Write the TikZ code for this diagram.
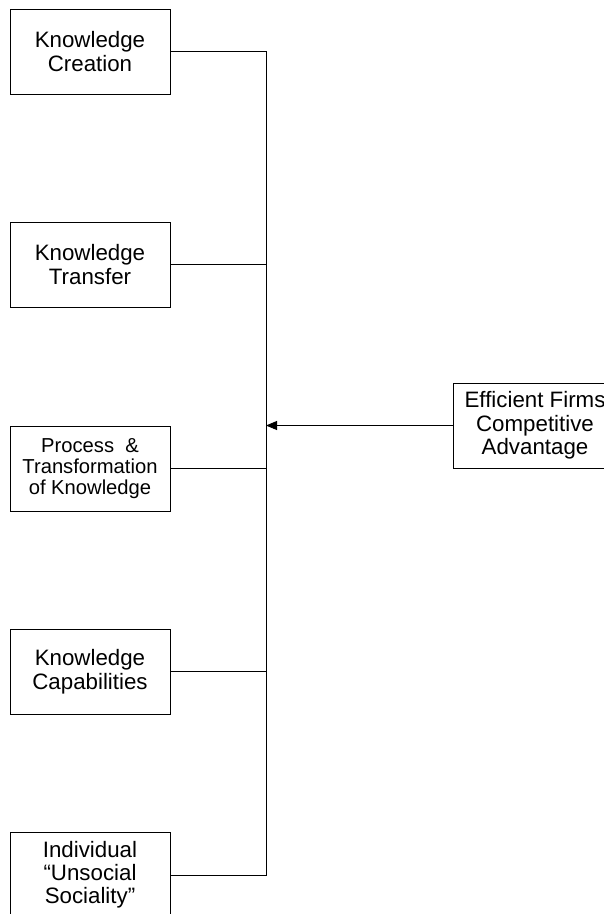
\documentclass[tikz,border=0pt]{standalone}
\usepackage{fontspec}
\setmainfont{Liberation Sans}
\usetikzlibrary{arrows.meta}
\begin{document}
\begin{tikzpicture}[x=1pt,y=-1pt,
  box/.style={draw=black,line width=0.9pt,minimum width=160pt,minimum height=85pt,inner sep=0pt,align=center,font=\fontsize{22.3}{24}\selectfont},
  conn/.style={draw=black,line width=0.9pt}]
\useasboundingbox (0,0) rectangle (604,914);
\node[box] (b1) at (90,51.5) {Knowledge\\Creation};
\node[box] (b2) at (90,264.5) {Knowledge\\Transfer};
\node[box,font=\fontsize{20.2}{21}\selectfont] (b3) at (90,468.5) {Process\ \ \&\\Transformation\\of Knowledge};
\node[box] (b4) at (90,671.5) {Knowledge\\Capabilities};
\node[box,font=\fontsize{22.3}{23}\selectfont] (b5) at (90,875) {Individual\\“Unsocial\\Sociality”};
\node[box,minimum width=164pt,font=\fontsize{22.3}{23.5}\selectfont] (eff) at (535,425.5) {Efficient Firms\\Competitive\\Advantage};
\coordinate (spine) at (266,0);
\draw[conn] (b1.east) -- (b1.east -| spine) -- (b5.east -| spine) -- (b5.east);
\draw[conn] (b2.east) -- (b2.east -| spine);
\draw[conn] (b3.east) -- (b3.east -| spine);
\draw[conn] (b4.east) -- (b4.east -| spine);
\draw[conn,-{Triangle[length=11pt,width=9pt]}] (eff.west) -- (eff.west -| spine);
\end{tikzpicture}
\end{document}
